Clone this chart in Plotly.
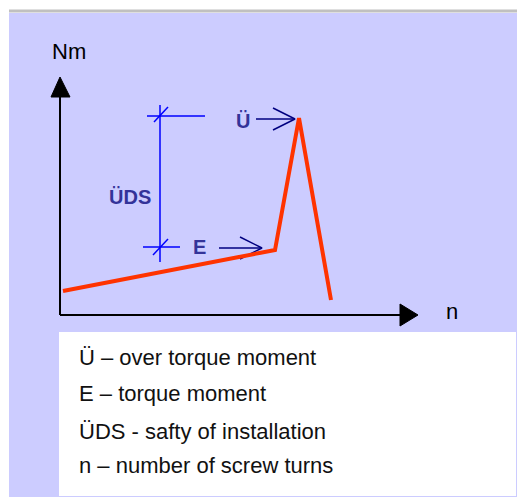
"""
Torque diagram: tightening moment vs. number of screw turns
"""

import plotly.graph_objects as go

FONT = "Liberation Sans, Arial, sans-serif"
BG_COLOR = "#ccccff"
RULE_COLOR = "#c0c0c0"
CURVE_COLOR = "#ff3300"
DIM_COLOR = "#0000ff"
ARROW_COLOR = "#000080"
LABEL_COLOR = "#333399"

# torque curve (n = screw turns, Nm = moment), origin at the axis crossing
turns = [3, 215, 239, 271]
torque = [24, 65, 197, 15]

# dimension line for the safety margin (UDS) between E and U
dim_n = [100, 100]
dim_nm = [53, 210]
dim_top_n = [87, 145]
dim_top_nm = [199, 199]
dim_low_n = [83, 120]
dim_low_nm = [68, 68]

# pointer arrows at E and U
u_arrow_n = [196, 235]
u_arrow_nm = [196, 196]
e_arrow_n = [159, 202]
e_arrow_nm = [67, 67]

labels = ["Ü", "E", "ÜDS"]
label_n = [183, 139, 70]
label_nm = [194, 68, 118]

legend_lines = [
    "Ü – over torque moment",
    "E – torque moment",
    "ÜDS - safty of installation",
    "n – number of screw turns",
]
legend_nm = [-42, -78, -116, -150]


def line(fig, x, y, color, width):
    fig.add_trace(
        go.Scatter(
            x=x, y=y, mode="lines", line_color=color, line_width=width,
            hoverinfo="skip", showlegend=False,
        )
    )


def plot_torque():
    fig = go.Figure()

    # panel background and white key box
    fig.add_shape(type="rect", x0=-51, x1=460, y0=-185, y1=302,
                  fillcolor=BG_COLOR, line_width=0, layer="below")
    fig.add_shape(type="line", x0=-51, x1=460, y0=304, y1=304,
                  line=dict(color=RULE_COLOR, width=3))
    fig.add_shape(type="rect", x0=-1, x1=456, y0=-181, y1=-17,
                  fillcolor="white", line_width=0, layer="below")

    # axes with filled arrow heads
    line(fig, [0, 0], [0, 222], "black", 2)
    line(fig, [0, 342], [0, 0], "black", 2)
    for xs, ys in (([-9, 0, 10, -9], [218, 238, 218, 218]),
                   ([340, 358, 340, 340], [11, 0, -11, 11])):
        fig.add_trace(go.Scatter(x=xs, y=ys, mode="lines", fill="toself",
                                 fillcolor="black", line_color="black",
                                 line_width=1, hoverinfo="skip", showlegend=False))

    # dimension lines
    line(fig, dim_n, dim_nm, DIM_COLOR, 1.5)
    line(fig, dim_top_n, dim_top_nm, DIM_COLOR, 1.5)
    line(fig, dim_low_n, dim_low_nm, DIM_COLOR, 1.5)
    line(fig, [94, 108], [193, 208], DIM_COLOR, 1.5)
    line(fig, [93, 108], [60, 76], DIM_COLOR, 1.5)

    # pointer arrows
    for xs, ys in ((u_arrow_n, u_arrow_nm), (e_arrow_n, e_arrow_nm)):
        tip_x, tip_y = xs[1], ys[1]
        line(fig, xs, ys, ARROW_COLOR, 1.5)
        line(fig, [tip_x - 22, tip_x, tip_x - 22],
             [tip_y + 11, tip_y, tip_y - 11], ARROW_COLOR, 1.5)

    # the torque curve
    fig.add_trace(
        go.Scatter(x=turns, y=torque, mode="lines", line_color=CURVE_COLOR,
                   line_width=4, hoverinfo="skip", showlegend=False)
    )

    for text, x, y in zip(labels, label_n, label_nm):
        fig.add_annotation(x=x, y=y, text=f"<b>{text}</b>", showarrow=False,
                           font=dict(family=FONT, size=20, color=LABEL_COLOR))

    fig.add_annotation(x=9, y=264, text="Nm", showarrow=False,
                       font=dict(family=FONT, size=22, color="black"))
    fig.add_annotation(x=392, y=4, text="n", showarrow=False,
                       font=dict(family=FONT, size=22, color="black"))

    for text, y in zip(legend_lines, legend_nm):
        fig.add_annotation(x=17, y=y, text=text, showarrow=False, xanchor="left",
                           font=dict(family=FONT, size=22, color="#111111"))

    fig.update_xaxes(range=[-60, 457], visible=False, fixedrange=True)
    fig.update_yaxes(range=[-182, 315], visible=False, fixedrange=True)
    fig.update_layout(
        width=517,
        height=497,
        margin=dict(l=0, r=0, t=0, b=0),
        plot_bgcolor="white",
        paper_bgcolor="white",
        font_family=FONT,
        showlegend=False,
    )
    return fig


fig = plot_torque()
# drop the default 8px page margin so the figure fills the window
fig.write_html(
    "out.html",
    config={"displayModeBar": False},
    post_script="document.body.style.margin='0';document.body.style.overflow='hidden';",
)
